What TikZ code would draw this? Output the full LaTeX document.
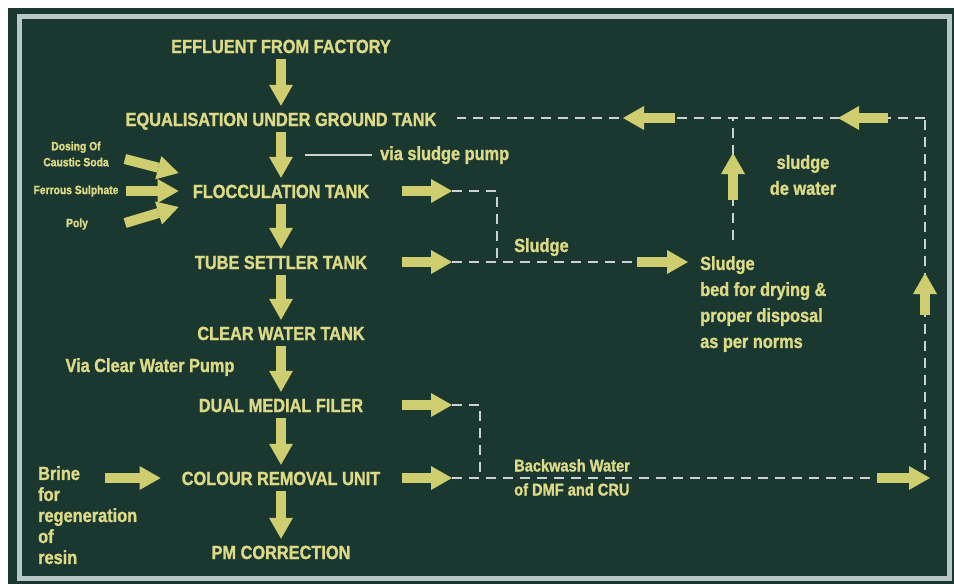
\documentclass[tikz,border=0pt]{standalone}
\usepackage{fontspec}
\setmainfont{Liberation Sans}[FakeStretch=0.86, BoldFeatures={FakeBold=1.2}]
\usetikzlibrary{arrows.meta}
\definecolor{board}{RGB}{27,56,48}
\definecolor{frame}{RGB}{185,200,196}
\definecolor{chalk}{RGB}{220,218,135}
\definecolor{arrowfill}{RGB}{206,206,112}
\definecolor{dashcol}{RGB}{205,210,208}

\begin{document}
\begin{tikzpicture}[x=1pt, y=-1pt,
    every node/.style={text=chalk, inner sep=0pt},
    main/.style={font=\fontsize{19}{22}\selectfont\bfseries, text height=14pt, text depth=0pt},
    mid/.style={font=\fontsize{19}{26}\selectfont\bfseries},
    small/.style={font=\fontsize{12}{16}\selectfont\bfseries, align=center},
    blk/.style={draw=arrowfill, line width=10pt,
      -{Triangle[length=21pt, width=24pt, line width=0pt]}},
    dsh/.style={draw=dashcol, line width=2.5pt, dash pattern=on 10pt off 7pt},
    thinline/.style={draw=dashcol, line width=1.5pt},
  ]
  % board
  \fill[white] (0,0) rectangle (954,584);
  \fill[board] (8,8) rectangle (954,584);
  \draw[frame, line width=5pt] (19,16) rectangle (949,578);

  % main treatment line
  \node[main] (eff)   at (281,46)  {EFFLUENT FROM FACTORY};
  \node[main] (equ)   at (281,119) {EQUALISATION UNDER GROUND TANK};
  \node[main] (floc)  at (281,191) {FLOCCULATION TANK};
  \node[main] (tube)  at (281,262) {TUBE SETTLER TANK};
  \node[main] (clear) at (281,333) {CLEAR WATER TANK};
  \node[main] (dmf)   at (281,405) {DUAL MEDIAL FILER};
  \node[main] (cru)   at (281,478) {COLOUR REMOVAL UNIT};
  \node[main] (pm)    at (281,552) {PM CORRECTION};

  \foreach \a/\b in {eff/equ, equ/floc, floc/tube, tube/clear, clear/dmf, dmf/cru, cru/pm}
    \draw[blk, shorten <=6pt, shorten >=6pt] (\a) -- (\b);

  % chemicals
  \node[small] (dos)  at (76,154) {Dosing Of\\Caustic Soda};
  \node[small] (fer)  at (76,191) {Ferrous Sulphate};
  \node[small] (poly) at (77,224) {Poly};
  \draw[blk] ([shift={(16,5)}]dos.east) -- ([shift={(-14,-18)}]floc.west);
  \draw[blk] ([shift={(7,0)}]fer.east) -- ([shift={(-14,0)}]floc.west);
  \draw[blk] ([shift={(37,-1)}]poly.east) -- ([shift={(-14,16)}]floc.west);

  \node[mid, anchor=base west] (via) at (380,160) {via sludge pump};
  \draw[thinline] ([xshift=-8pt]via.west) -- ([xshift=-75pt]via.west);
  \node[mid, anchor=base] (cwp) at (150,372) {Via Clear Water Pump};

  \node[mid, align=left, anchor=north west, font=\fontsize{19}{21}\selectfont\bfseries]
    (brine) at (38,466) {Brine\\for\\regeneration\\of\\resin};
  \draw[blk] ([shift={(67,12)}]brine.north west) -- ([shift={(-21,0)}]cru.west);

  % outlets to the right
  \coordinate (ax) at (402,0);
  \foreach \n in {floc, tube, dmf, cru}
    \draw[blk] (\n.east -| ax) -- ++(50,0) coordinate (\n-out);

  % sludge side
  \node[mid, anchor=base west] (slg) at (514,252) {Sludge};
  \node[mid, align=left, anchor=north west] (bed) at (700,256)
    {Sludge\\bed for drying \&\\proper disposal\\as per norms};
  \node[mid, align=center] (dew) at (803,175) {sludge\\de water};

  \coordinate (j1) at (497,262);
  \coordinate (j3) at (733,118);
  \coordinate (j4) at (925,118);
  \coordinate (dwb) at (733,240);
  \draw[dsh] (floc-out) -| (j1);
  \draw[dsh] (tube-out) -- ([shift={(-63,6)}]bed.north west);
  \draw[blk] ([shift={(-63,6)}]bed.north west) -- ([shift={(-12,6)}]bed.north west);
  \draw[dsh] (dwb) -- (j3);
  \draw[blk] ([shift={(0,-40)}]dwb) -- ([shift={(0,-87)}]dwb);
  \draw[dsh] (j4) -- ([shift={(20,-1)}]equ.east);
  \draw[blk] ([shift={(-58,0)}]j3) -- ([shift={(-110,0)}]j3);
  \draw[blk] ([shift={(-37,0)}]j4) -- ([shift={(-87,0)}]j4);

  % backwash side
  \node[align=left, anchor=north west, font=\fontsize{17}{24}\selectfont\bfseries]
    (bwl) at (514,459) {Backwash Water\\of DMF and CRU};
  \coordinate (j5) at (480,478);
  \coordinate (j6) at (925,470);
  \coordinate (bw) at (877,478);
  \draw[dsh] (dmf-out) -| (j5);
  \draw[dsh] (cru-out) -- (bw);
  \draw[blk] (bw) -- ++(53,0);
  \draw[dsh] (j6) -- (j4);
  \draw[blk] ([shift={(0,-155)}]j6) -- ([shift={(0,-197)}]j6);
\end{tikzpicture}
\end{document}
